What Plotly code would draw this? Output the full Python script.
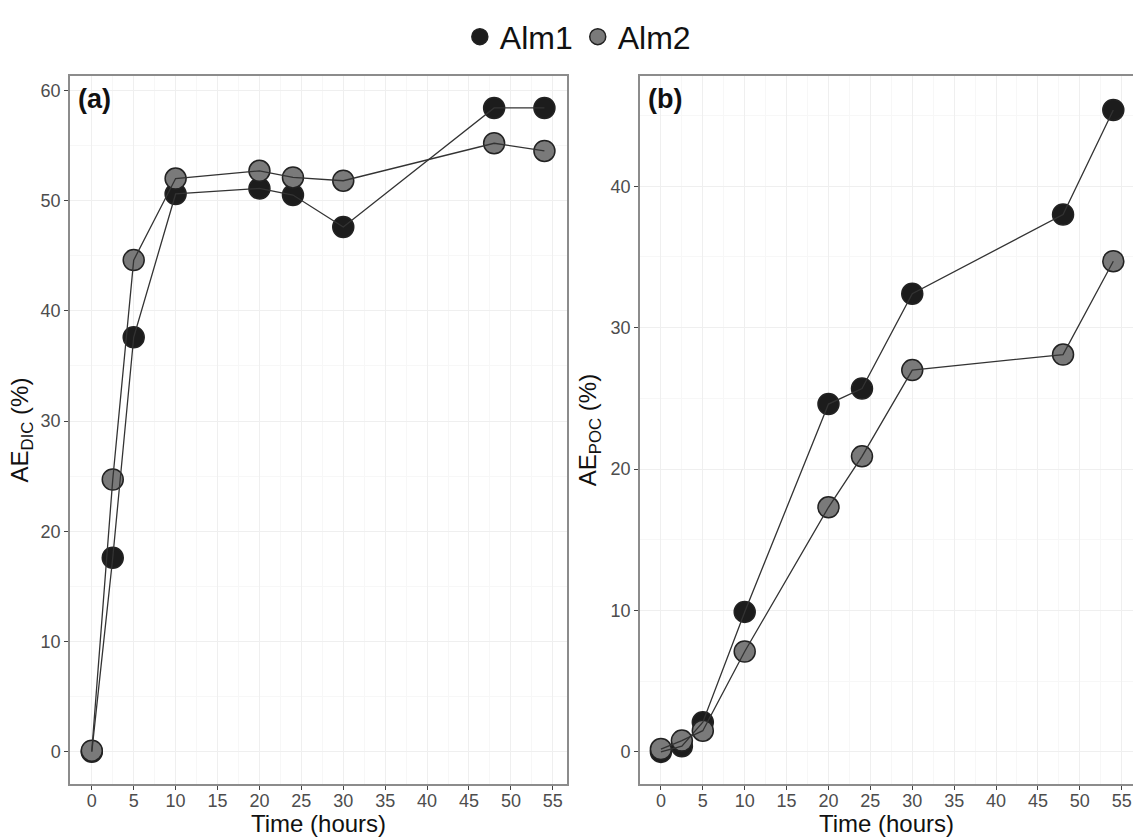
import plotly.graph_objects as go

# ---- data ----
time_h = [0, 2.5, 5, 10, 20, 24, 30, 48, 54]
dic_alm1 = [0.0, 17.6, 37.6, 50.6, 51.1, 50.5, 47.6, 58.4, 58.4]
dic_alm2 = [0.1, 24.7, 44.6, 52.0, 52.7, 52.1, 51.8, 55.2, 54.5]
poc_alm1 = [0.0, 0.4, 2.1, 9.9, 24.6, 25.7, 32.4, 38.0, 45.4]
poc_alm2 = [0.2, 0.8, 1.5, 7.1, 17.3, 20.9, 27.0, 28.1, 34.7]
series_names = ["Alm1", "Alm2"]
x_ticks = list(range(0, 60, 5))

FONT = "Liberation Sans, Arial, sans-serif"
fills = {"Alm1": "#1c1c1c", "Alm2": "#7a7a7a"}

fig = go.Figure()

panels = [("x", "y", dic_alm1, dic_alm2), ("x2", "y2", poc_alm1, poc_alm2)]
for i, (xa, ya, s1, s2) in enumerate(panels):
    data = {"Alm1": s1, "Alm2": s2}
    for name in series_names:
        fig.add_trace(go.Scatter(
            x=time_h, y=data[name], mode="markers", name=name,
            xaxis=xa, yaxis=ya, legendgroup=name, showlegend=(i == 0),
            marker=dict(size=21, color=fills[name],
                        line=dict(color="#222222", width=1.5)),
            hoverinfo="x+y+name"))
    for name in series_names:
        fig.add_trace(go.Scatter(
            x=time_h, y=data[name], mode="lines", name=name,
            xaxis=xa, yaxis=ya, legendgroup=name, showlegend=False,
            line=dict(color="#333333", width=1.3), hoverinfo="skip"))

axis_common = dict(
    showline=True, linecolor="#8c8c8c", linewidth=1.5, mirror=True,
    ticks="outside", ticklen=4, tickwidth=1, tickcolor="#444444",
    tickfont=dict(family=FONT, size=18, color="#4d4d4d"),
    showgrid=True, gridcolor="#efefef", gridwidth=1,
    zeroline=False, automargin=False,
)
minor_x = dict(dtick=2.5, showgrid=True, gridcolor="#f7f7f7", gridwidth=1)
minor_y = dict(dtick=5, showgrid=True, gridcolor="#f7f7f7", gridwidth=1)
title_font = dict(family=FONT, size=24, color="#111111")

fig.update_layout(
    width=1133, height=837,
    margin=dict(l=70, r=0, t=76, b=53),
    paper_bgcolor="white", plot_bgcolor="white",
    font=dict(family=FONT),
    xaxis=dict(domain=[0, 0.4676], range=[-2.6, 56.7],
               tickmode="array", tickvals=x_ticks, ticklabelstandoff=-4,
               minor=minor_x,
               title=dict(text="Time (hours)", font=title_font, standoff=2),
               **axis_common),
    yaxis=dict(domain=[0, 1], range=[-2.92, 61.3], dtick=10,
               minor=minor_y,
               title=dict(text="AE<sub>DIC</sub> (%)", font=title_font, standoff=5),
               **axis_common),
    xaxis2=dict(domain=[0.5362, 1], range=[-2.5, 56.35], anchor="y2",
                tickmode="array", tickvals=x_ticks, ticklabelstandoff=-4,
                ticklabeloverflow="allow",
                minor=minor_x,
                title=dict(text="Time (hours)", font=title_font, standoff=2),
                **axis_common),
    yaxis2=dict(domain=[0, 1], range=[-2.27, 47.8], dtick=10, anchor="x2",
                minor=minor_y,
                title=dict(text="AE<sub>POC</sub> (%)", font=title_font, standoff=7),
                **axis_common),
    legend=dict(orientation="h", xref="container", x=0.51, xanchor="center",
                yref="container", y=0.956, yanchor="middle",
                font=dict(family=FONT, size=32, color="#111111"),
                itemsizing="trace", tracegroupgap=0, bgcolor="rgba(0,0,0,0)"),
    annotations=[
        dict(text="<b>(a)</b>", xref="x domain", yref="y domain", x=0.012, y=0.992,
             xanchor="left", yanchor="top", showarrow=False,
             font=dict(family=FONT, size=27, color="#111111")),
        dict(text="<b>(b)</b>", xref="x2 domain", yref="y2 domain", x=0.012, y=0.992,
             xanchor="left", yanchor="top", showarrow=False,
             font=dict(family=FONT, size=27, color="#111111")),
    ],
)

fig.write_html("out.html", config={"displayModeBar": False},
               post_script="document.body.style.margin='0';document.body.style.overflow='hidden';")
